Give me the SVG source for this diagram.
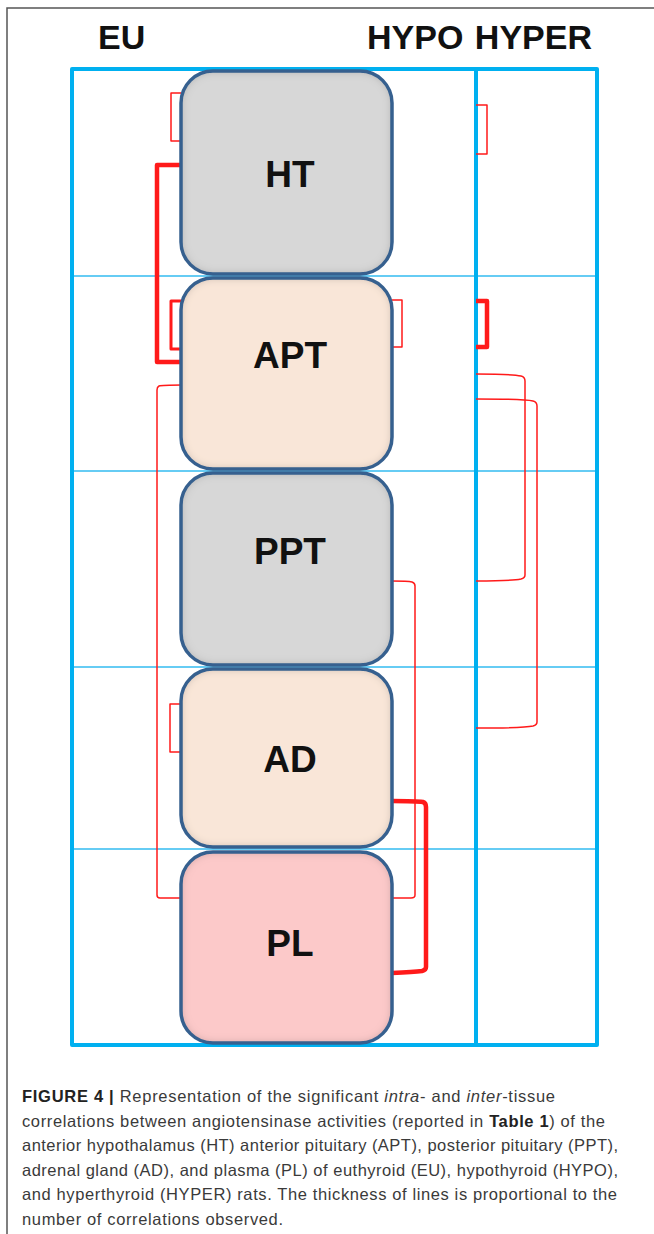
<svg xmlns="http://www.w3.org/2000/svg" width="654" height="1234" viewBox="0 0 654 1234">
  <style>
    .frame { stroke: #555; stroke-width: 1.5; fill: none; }
    .grid-outer { stroke: #00b0f0; stroke-width: 4; fill: none; stroke-linejoin: round; }
    .grid-thin { stroke: #33bbf0; stroke-width: 1.5; fill: none; }
    .box-edge { fill: none; stroke: #36608f; stroke-width: 3.5; }
    .label { font-family: "Liberation Sans", Arial, sans-serif; font-weight: bold; font-size: 37px; fill: #111; text-anchor: middle; }
    .head { font-family: "Liberation Sans", Arial, sans-serif; font-weight: bold; font-size: 34px; fill: #111; }
    .conn { fill: none; stroke: #ff1a1a; stroke-linejoin: round; stroke-linecap: butt; }
    .thin { stroke-width: 1.5; }
    .mid { stroke-width: 3; }
    .thick { stroke-width: 4.5; }
    .cap { font-family: "Liberation Sans", Arial, sans-serif; font-size: 16.5px; fill: #3a3a3a; }
    .b { font-weight: bold; fill: #222; }
    .i { font-style: italic; }
  </style>
  <defs>
    <filter id="inset" x="-5%" y="-5%" width="110%" height="110%">
      <feFlood flood-color="#000" flood-opacity="0.45" result="f"/>
      <feComposite in="f" in2="SourceAlpha" operator="out" result="o"/>
      <feGaussianBlur in="o" stdDeviation="4" result="bl"/>
      <feComposite in="bl" in2="SourceAlpha" operator="in" result="sh"/>
      <feMerge><feMergeNode in="SourceGraphic"/><feMergeNode in="sh"/></feMerge>
    </filter>
  </defs>

  <g id="page-frame">
    <path class="frame" d="M7,1234 V8 H654"/>
  </g>

  <g id="headers">
    <text class="head" x="98" y="49">EU</text>
    <text class="head" x="367" y="49">HYPO</text>
    <text class="head" x="592" y="49" text-anchor="end">HYPER</text>
  </g>

  <g id="grid">
    <line class="grid-thin" x1="72" y1="276" x2="597" y2="276"/>
    <line class="grid-thin" x1="72" y1="471" x2="597" y2="471"/>
    <line class="grid-thin" x1="72" y1="667" x2="597" y2="667"/>
    <line class="grid-thin" x1="72" y1="849" x2="597" y2="849"/>
    <line class="grid-outer" x1="476" y1="69" x2="476" y2="1045"/>
    <rect class="grid-outer" x="72" y="69" width="525" height="976"/>
  </g>

  <g id="connectors">
    <path class="conn thin" d="M181,93 H171 V141 H181"/>
    <path class="conn thick" d="M181,165 H157 V362 H181"/>
    <path class="conn mid" d="M181,301 H171 V349 H181"/>
    <path class="conn thin" d="M476,105 H487 V154 H476"/>
    <path class="conn thin" d="M392,300 H402 V347 H392"/>
    <path class="conn thick" d="M476,301 H487 V347 H476"/>
    <path class="conn thin" d="M476,374 Q512,374 521,376 Q525,377 525,381 V575 Q525,578 521,579 Q512,581 476,581"/>
    <path class="conn thin" d="M476,399 Q524,399 533,401 Q537,402 537,406 V722 Q537,725 533,726 Q524,728 476,728"/>
    <path class="conn thin" d="M182,385 Q162,385 159,386 Q157,387 157,390 V895 Q157,898 160,898 H181"/>
    <path class="conn thin" d="M392,581 Q408,581 412,582 Q415,583 415,586 V895 Q415,898 411,898 H392"/>
    <path class="conn thin" d="M181,704 H170 V752 H181"/>
    <path class="conn thick" d="M392,801 Q416,801 423,802 Q426,803 426,807 V967 Q426,970 422,971 Q414,972 392,973"/>
  </g>

  <g id="node-HT">
    <rect x="181" y="71" width="211" height="203" rx="32" fill="#d7d7d7" filter="url(#inset)"/>
    <rect class="box-edge" x="181" y="71" width="211" height="203" rx="32"/>
    <text class="label" x="290" y="187">HT</text>
  </g>
  <g id="node-APT">
    <rect x="181" y="278" width="211" height="191" rx="32" fill="#f9e6d8" filter="url(#inset)"/>
    <rect class="box-edge" x="181" y="278" width="211" height="191" rx="32"/>
    <text class="label" x="290" y="368">APT</text>
  </g>
  <g id="node-PPT">
    <rect x="181" y="473" width="211" height="192" rx="32" fill="#d7d7d7" filter="url(#inset)"/>
    <rect class="box-edge" x="181" y="473" width="211" height="192" rx="32"/>
    <text class="label" x="290" y="564">PPT</text>
  </g>
  <g id="node-AD">
    <rect x="181" y="669" width="211" height="178" rx="32" fill="#f9e6d8" filter="url(#inset)"/>
    <rect class="box-edge" x="181" y="669" width="211" height="178" rx="32"/>
    <text class="label" x="290" y="772">AD</text>
  </g>
  <g id="node-PL">
    <rect x="181" y="852" width="211" height="191" rx="32" fill="#fcc9c9" filter="url(#inset)"/>
    <rect class="box-edge" x="181" y="852" width="211" height="191" rx="32"/>
    <text class="label" x="290" y="956">PL</text>
  </g>

  <g id="caption">
    <text class="cap" x="22" y="1102" textLength="533" lengthAdjust="spacing"><tspan class="b">FIGURE 4 |</tspan> Representation of the significant <tspan class="i">intra</tspan>- and <tspan class="i">inter</tspan>-tissue</text>
    <text class="cap" x="22" y="1126.6" textLength="583" lengthAdjust="spacing">correlations between angiotensinase activities (reported in <tspan class="b">Table 1</tspan>) of the</text>
    <text class="cap" x="22" y="1151.2" textLength="596" lengthAdjust="spacing">anterior hypothalamus (HT) anterior pituitary (APT), posterior pituitary (PPT),</text>
    <text class="cap" x="22" y="1175.8" textLength="596" lengthAdjust="spacing">adrenal gland (AD), and plasma (PL) of euthyroid (EU), hypothyroid (HYPO),</text>
    <text class="cap" x="22" y="1200.4" textLength="595" lengthAdjust="spacing">and hyperthyroid (HYPER) rats. The thickness of lines is proportional to the</text>
    <text class="cap" x="22" y="1225" textLength="261" lengthAdjust="spacing">number of correlations observed.</text>
  </g>
</svg>
